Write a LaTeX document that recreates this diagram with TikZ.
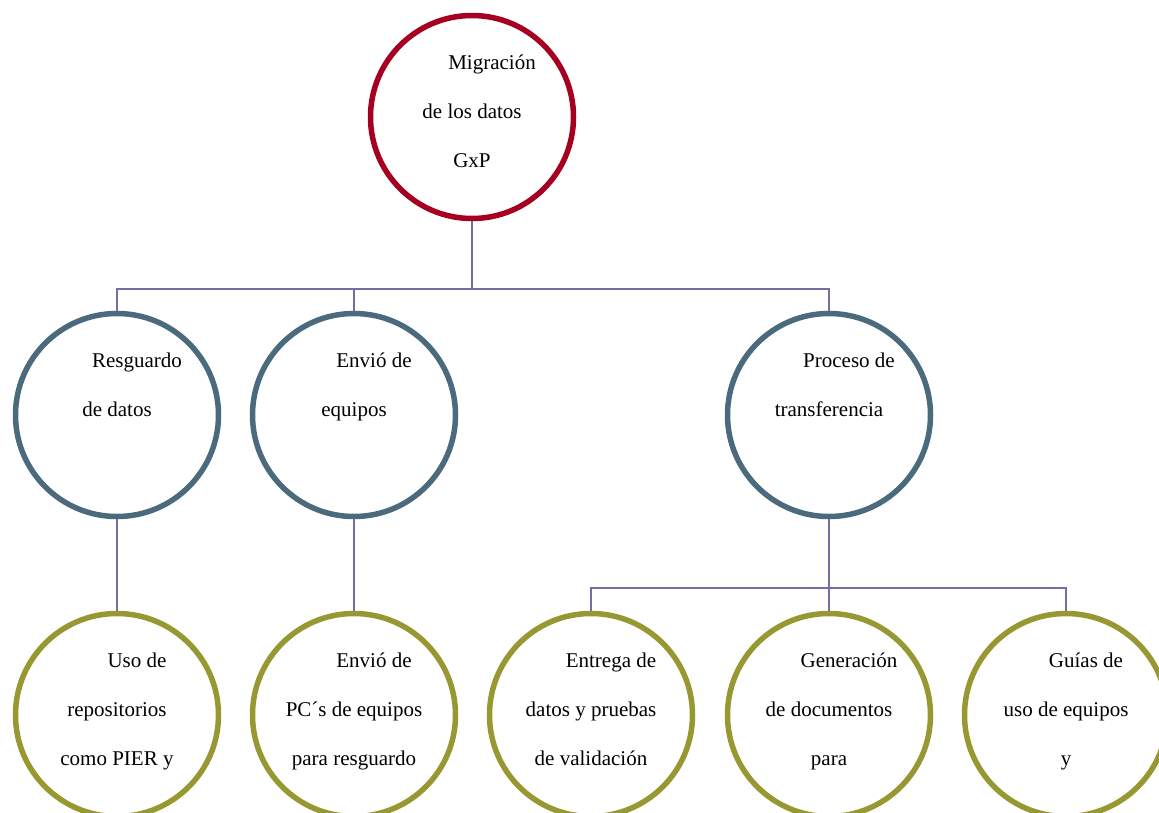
\documentclass[tikz,border=0pt]{standalone}
\usepackage{fontspec}
\setmainfont{Liberation Serif}
\definecolor{topred}{HTML}{A50021}
\definecolor{midslate}{HTML}{4B6A7D}
\definecolor{leafolive}{HTML}{989833}
\definecolor{linkviolet}{HTML}{766CA3}
% fixed-height strut so every line has the same box
\newcommand{\lstrut}{\rule[-19pt]{0pt}{40pt}}
\newcommand{\indentfirst}{\hspace*{40pt}}
\begin{document}
\begin{tikzpicture}[x=1pt,y=-1pt,
  bubble/.style={circle,draw,line width=5.5pt,minimum size=203pt,inner sep=0pt,
    fill=white,align=center,font=\fontsize{21}{49}\selectfont},
  rootbubble/.style={bubble,draw=topred},
  midbubble/.style={bubble,draw=midslate},
  leafbubble/.style={bubble,draw=leafolive},
  conn/.style={draw=linkviolet,line width=1.6pt}]
\useasboundingbox (0,0) rectangle (1159,812);

% root
\node[rootbubble] (mig) at (472,117)
  {\indentfirst Migración\lstrut\\de los datos\lstrut\\GxP\lstrut};

% second level
\node[midbubble] (res) at (117,415)
  {\indentfirst Resguardo\lstrut\\de datos\lstrut\\\lstrut};
\node[midbubble] (env) at (354,415)
  {\indentfirst Envió de\lstrut\\equipos\lstrut\\\lstrut};
\node[midbubble] (proc) at (829,415)
  {\indentfirst Proceso de\lstrut\\transferencia\lstrut\\\lstrut};

% leaves
\node[leafbubble] (uso) at (117,715)
  {\indentfirst Uso de\lstrut\\repositorios\lstrut\\como PIER y\lstrut};
\node[leafbubble] (pcs) at (354,715)
  {\indentfirst Envió de\lstrut\\PC´s de equipos\lstrut\\para resguardo\lstrut};
\node[leafbubble] (ent) at (591,715)
  {\indentfirst Entrega de\lstrut\\datos y pruebas\lstrut\\de validación\lstrut};
\node[leafbubble] (gen) at (829,715)
  {\indentfirst Generación\lstrut\\de documentos\lstrut\\para\lstrut};
\node[leafbubble] (gui) at (1066,715)
  {\indentfirst Guías de\lstrut\\uso de equipos\lstrut\\y\lstrut};

% connectors
\coordinate (bus1) at (472,289);
\coordinate (bus2) at (829,588);
\draw[conn] (mig.south) -- (bus1);
\draw[conn] (bus1) -| (res.north);
\draw[conn] (bus1) -| (env.north);
\draw[conn] (bus1) -| (proc.north);
\draw[conn] (res.south) -- (uso.north);
\draw[conn] (env.south) -- (pcs.north);
\draw[conn] (proc.south) -- (bus2);
\draw[conn] (bus2) -| (ent.north);
\draw[conn] (bus2) -- (gen.north);
\draw[conn] (bus2) -| (gui.north);
\end{tikzpicture}
\end{document}
